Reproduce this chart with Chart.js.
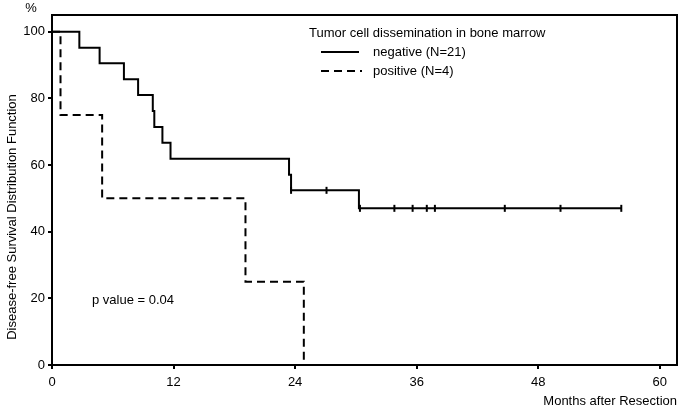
<!DOCTYPE html>
<html>
<head>
<meta charset="utf-8">
<script src="https://cdn.jsdelivr.net/npm/chart.js@4/dist/chart.umd.min.js"></script>
<style>
html,body{margin:0;padding:0;background:#fff;}
#wrap{width:683px;height:413px;}
</style>
</head>
<body>
<div id="wrap"><canvas id="c" width="683" height="413"></canvas></div>
<script>
// Kaplan-Meier data
const negMonths   = [0, 2.7, 4.7, 7.1, 8.5, 9.95, 10.1, 10.9, 11.7, 23.4, 23.6, 30.3, 56.2];
const negSurvival = [100, 95.2, 90.5, 85.7, 81.0, 76.2, 71.4, 66.7, 61.9, 57.1, 52.4, 47.0, 47.0];
const negCensorMonths   = [23.6, 27.1, 30.4, 33.8, 35.6, 37.0, 37.8, 44.7, 50.2, 56.2];
const negCensorSurvival = [52.4, 52.4, 47.0, 47.0, 47.0, 47.0, 47.0, 47.0, 47.0, 47.0];
const posMonths   = [0, 0.84, 4.95, 19.1, 24.86];
const posSurvival = [100, 75, 50, 25, 0];
const xTicks = [0, 12, 24, 36, 48, 60];
const yTicks = [0, 20, 40, 60, 80, 100];
const seriesLabels = ['negative (N=21)', 'positive (N=4)'];
const legendTitle = 'Tumor cell dissemination in bone marrow';
const yTitle = 'Disease-free Survival Distribution Function';
const xTitle = 'Months after Resection';
const pText = 'p value = 0.04';

const FONT = '"Liberation Sans", Arial, sans-serif';
const toPts = (xs, ys) => xs.map((x, i) => ({x: x, y: ys[i]}));

const decor = {
  id: 'decor',
  afterDraw(chart) {
    const {ctx, chartArea: a} = chart;
    ctx.save();
    ctx.strokeStyle = '#000';
    ctx.lineWidth = 2;
    ctx.beginPath();
    ctx.moveTo(a.left, a.top); ctx.lineTo(a.right, a.top); ctx.lineTo(a.right, a.bottom);
    ctx.stroke();
    ctx.fillStyle = '#000';
    ctx.font = '13px ' + FONT;
    ctx.textAlign = 'center'; ctx.textBaseline = 'middle';
    ctx.fillText('%', 31, 8);
    ctx.save();
    ctx.translate(12, 217);
    ctx.rotate(-Math.PI / 2);
    ctx.fillText(yTitle, 0, 0);
    ctx.restore();
    ctx.textAlign = 'left';
    ctx.fillText(legendTitle, 309, 33);
    ctx.lineWidth = 2;
    ctx.beginPath(); ctx.moveTo(321, 52); ctx.lineTo(359, 52); ctx.stroke();
    ctx.setLineDash([8, 5]);
    ctx.beginPath(); ctx.moveTo(321, 71); ctx.lineTo(362, 71); ctx.stroke();
    ctx.setLineDash([]);
    ctx.fillText(seriesLabels[0], 373, 52);
    ctx.fillText(seriesLabels[1], 373, 71);
    ctx.fillText(pText, 92, 300);
    ctx.restore();
  }
};

new Chart(document.getElementById('c'), {
  type: 'scatter',
  data: {
    datasets: [
      {
        label: seriesLabels[0],
        data: toPts(negMonths, negSurvival),
        showLine: true, stepped: 'before',
        borderColor: '#000', borderWidth: 2, pointRadius: 0, fill: false
      },
      {
        label: seriesLabels[1],
        data: toPts(posMonths, posSurvival),
        showLine: true, stepped: 'before',
        borderColor: '#000', borderWidth: 2, borderDash: [8, 5], pointRadius: 0, fill: false
      },
      {
        label: 'censored',
        data: toPts(negCensorMonths, negCensorSurvival),
        showLine: false,
        pointStyle: 'line', rotation: 90, pointRadius: 3.5,
        borderColor: '#000', pointBorderWidth: 2, backgroundColor: '#000'
      }
    ]
  },
  options: {
    responsive: false,
    animation: false,
    layout: {padding: {left: 0, right: 5, top: 15, bottom: 0}},
    plugins: {legend: {display: false}, tooltip: {enabled: false}},
    scales: {
      x: {
        type: 'linear', min: 0, max: 61.7,
        afterBuildTicks: s => { s.ticks = xTicks.map(v => ({value: v})); },
        afterFit: s => { s.height = 48; },
        grid: {drawOnChartArea: false, drawTicks: true, tickLength: 4, color: '#000', lineWidth: 2},
        border: {display: true, color: '#000', width: 2},
        ticks: {color: '#000', font: {family: FONT, size: 13}, padding: 6, maxRotation: 0},
        title: {display: true, text: xTitle, align: 'end', color: '#000', font: {family: FONT, size: 13}, padding: {top: 2, bottom: 4}}
      },
      y: {
        type: 'linear', min: 0, max: 105,
        afterBuildTicks: s => { s.ticks = yTicks.map(v => ({value: v})); },
        afterFit: s => { s.width = 52; },
        grid: {drawOnChartArea: false, drawTicks: true, tickLength: 4, color: '#000', lineWidth: 2},
        border: {display: true, color: '#000', width: 2},
        ticks: {color: '#000', font: {family: FONT, size: 13}, padding: 3}
      }
    }
  },
  plugins: [decor]
});
</script>
</body>
</html>
